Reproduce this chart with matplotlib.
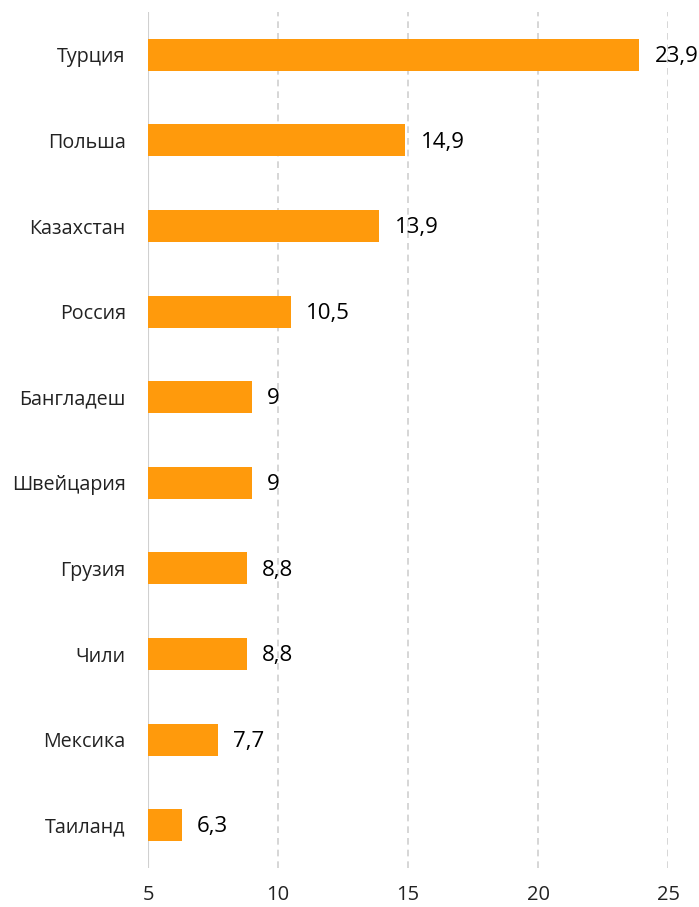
import matplotlib.pyplot as plt

# данные
countries = ['Турция', 'Польша', 'Казахстан', 'Россия', 'Бангладеш',
             'Швейцария', 'Грузия', 'Чили', 'Мексика', 'Таиланд']
values = [23.9, 14.9, 13.9, 10.5, 9, 9, 8.8, 8.8, 7.7, 6.3]
value_labels = ['23,9', '14,9', '13,9', '10,5', '9', '9', '8,8', '8,8', '7,7', '6,3']
xticks = [5, 10, 15, 20, 25]

plt.rcParams['font.family'] = ['Open Sans', 'DejaVu Sans']

fig = plt.figure(figsize=(6.99, 9.07), dpi=100)
ax = fig.add_axes([148 / 699, 1 - 868 / 907, 520 / 699, 856 / 907])

base = 5
ypos = list(range(len(countries)))
ax.barh(ypos, [v - base for v in values], left=base, height=0.375,
        color='#FF9A0C', zorder=3)

for y, v, lab in zip(ypos, values, value_labels):
    ax.text(v + 0.58, y + 0.02, lab, va='center', ha='left', fontsize=16,
            color='black', zorder=4)

ax.set_xlim(5, 25)
ax.set_ylim(len(countries) - 0.5, -0.5)
ax.set_yticks(ypos)
ax.set_yticklabels(countries, fontsize=14.2, color='#222222')
ax.set_xticks(xticks)
ax.set_xticklabels([str(t) for t in xticks], fontsize=14.5, color='#222222')

# сетка
for t in xticks[1:]:
    ax.axvline(t, color='#d0d0d0', linestyle=(0, (4, 3)), linewidth=1.2, zorder=1)
ax.axvline(5, color='#d0d0d0', linewidth=1.5, zorder=2)

for s in ax.spines.values():
    s.set_visible(False)
ax.tick_params(axis='both', length=0)
ax.tick_params(axis='y', pad=16)
ax.tick_params(axis='x', pad=12)

plt.savefig('out.png', dpi=100)
plt.close()
